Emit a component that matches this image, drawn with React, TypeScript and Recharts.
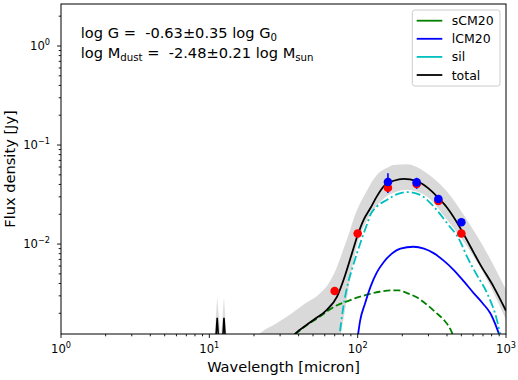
import React from 'react';
import { ComposedChart, Line, Area, Scatter, XAxis, YAxis, ErrorBar } from 'recharts';

// ---- data ----
const totalWave = [35, 38, 44, 50.6, 62, 72.6, 80.4, 91.6, 99, 109.7, 122, 135, 153, 175, 204, 250, 300, 343, 400, 492, 574, 671, 826, 1000];
const totalFlux = [0.00108, 0.00125, 0.00148, 0.00172, 0.00217, 0.00294, 0.00436, 0.0081, 0.0118, 0.0176, 0.0231, 0.0305, 0.0396, 0.0436, 0.0456, 0.0432, 0.0365, 0.0302, 0.0234, 0.0145, 0.0095, 0.0062, 0.0037, 0.00212];

const spikeWave = [10.9, 11.3, 11.7, 12.15, 12.55, 13.0];
const spikeFlux = [0.0008, 0.0018, 0.0008, 0.0008, 0.0018, 0.0008];

const spikeBandWave = [10.7, 11.3, 11.95, 12.55, 13.2];
const spikeBandLo = [0.0005, 0.0005, 0.0005, 0.0005, 0.0005];
const spikeBandHi = [0.0009, 0.0029, 0.0011, 0.0029, 0.0009];

const bandWave = [18, 22, 28.6, 36, 43, 56, 65, 72.6, 80, 89, 94, 104, 110, 128, 135, 158, 175, 215, 250, 293, 400, 545, 745, 1000];
const bandLo = [0.0005, 0.0005, 0.0005, 0.0005, 0.0005, 0.0005, 0.0005, 0.0008, 0.0017, 0.0045, 0.0069, 0.0124, 0.015, 0.0222, 0.0245, 0.0307, 0.033, 0.0353, 0.034, 0.0302, 0.0176, 0.0095, 0.00436, 0.00172];
const bandHi = [0.0009, 0.00126, 0.0016, 0.002, 0.00244, 0.0032, 0.0042, 0.0059, 0.0088, 0.0139, 0.018, 0.026, 0.0302, 0.045, 0.0501, 0.059, 0.063, 0.064, 0.06, 0.052, 0.034, 0.0176, 0.0081, 0.00346];

const silWave = [72, 75, 80, 86, 92, 100, 107, 115, 122, 135, 158, 185, 220, 264, 325, 400, 492, 545, 640, 745, 878, 950];
const silFlux = [0.0006, 0.0011, 0.0023, 0.004, 0.0057, 0.0085, 0.0115, 0.0155, 0.0198, 0.024, 0.028, 0.032, 0.0335, 0.0314, 0.024, 0.0163, 0.0106, 0.0075, 0.0048, 0.0032, 0.0016, 0.0009];

const lcmWave = [98, 104, 112, 122, 135, 150, 170, 194, 238, 280, 325, 380, 443, 520, 605, 700, 784, 870, 960];
const lcmFlux = [0.0009, 0.0017, 0.0025, 0.0037, 0.0052, 0.0066, 0.008, 0.009, 0.0094, 0.009, 0.0081, 0.0068, 0.0055, 0.0042, 0.0032, 0.0025, 0.002, 0.0014, 0.0009];

const scmWave = [30, 35, 38, 45.5, 54, 62.2, 72, 84.8, 100, 115.6, 140, 166, 190, 215, 250, 293, 335, 380, 420, 470];
const scmFlux = [0.0009, 0.00105, 0.00122, 0.00152, 0.0018, 0.00209, 0.0024, 0.00264, 0.0029, 0.00308, 0.0033, 0.0034, 0.0034, 0.0032, 0.0029, 0.00244, 0.00205, 0.00172, 0.0014, 0.0009];

const redWave = [70, 100, 160, 250, 350, 500];
const redFlux = [0.00336, 0.0128, 0.0371, 0.0404, 0.0272, 0.0128];

const blueWave = [160, 250, 350, 500];
const blueFlux = [0.0423, 0.042, 0.0285, 0.0166];
const blueErrLo = [0.0096, 0.0059, 0.0015, 0.0008];
const blueErrHi = [0.0097, 0.0047, 0.0015, 0.0008];

const xTicks = [1, 2, 3, 4, 5, 6, 7, 8, 9, 10, 20, 30, 40, 50, 60, 70, 80, 90, 100, 200, 300, 400, 500, 600, 700, 800, 900, 1000];
const yTicks = [0.002, 0.003, 0.004, 0.005, 0.006, 0.007, 0.008, 0.009, 0.01, 0.02, 0.03, 0.04, 0.05, 0.06, 0.07, 0.08, 0.09, 0.1, 0.2, 0.3, 0.4, 0.5, 0.6, 0.7, 0.8, 0.9, 1, 2];

const legendItems = [
  { label: 'sCM20', color: '#008000' },
  { label: 'lCM20', color: '#0000ff' },
  { label: 'sil', color: '#00bfbf' },
  { label: 'total', color: '#000000' },
];

// ---- tables built from the arrays ----
const rows = (w: number[], f: number[]) => w.map((x, i) => ({ w: x, f: f[i] }));
const bandRows = (w: number[], lo: number[], hi: number[]) => w.map((x, i) => ({ w: x, r: [lo[i], hi[i]] }));
const totalData = rows(totalWave, totalFlux);
const spikeData = rows(spikeWave, spikeFlux);
const silData = rows(silWave, silFlux);
const lcmData = rows(lcmWave, lcmFlux);
const scmData = rows(scmWave, scmFlux);
const bandData = bandRows(bandWave, bandLo, bandHi);
const spikeBandData = bandRows(spikeBandWave, spikeBandLo, spikeBandHi);
const redData = rows(redWave, redFlux);
const blueData = blueWave.map((x, i) => ({ w: x, f: blueFlux[i], err: [blueErrLo[i], blueErrHi[i]] }));

const FONT = 'DejaVu Sans';

const isMajor = (v: number) => Math.abs(Math.log10(v) - Math.round(Math.log10(v))) < 1e-9;
const expLabel = (v: number) => {
  const e = Math.round(Math.log10(v));
  return e < 0 ? '\u2212' + Math.abs(e) : String(e);
};

const XTick = (props: any) => {
  const { x, y, payload } = props;
  const v = payload.value;
  const major = isMajor(v);
  return (
    <g>
      <line x1={x} x2={x} y1={y} y2={y + (major ? 4 : 2.3)} stroke="#000" strokeWidth={0.9} />
      {major && (
        <text x={x} y={y + 18.6} textAnchor="middle" fontSize={11.6} fontFamily={FONT} fill="#000">
          10<tspan dy={-5} fontSize={8.2}>{expLabel(v)}</tspan>
        </text>
      )}
    </g>
  );
};

const YTick = (props: any) => {
  const { x, y, payload } = props;
  const v = payload.value;
  const major = isMajor(v);
  return (
    <g>
      <line x1={x - (major ? 4 : 2.3)} x2={x} y1={y} y2={y} stroke="#000" strokeWidth={0.9} />
      {major && (
        <text x={x - 11} y={y + 4.2} textAnchor="end" fontSize={11.6} fontFamily={FONT} fill="#000">
          10<tspan dy={-5.5} fontSize={8.2}>{expLabel(v)}</tspan>
        </text>
      )}
    </g>
  );
};

const redDot = (p: any) => <circle cx={p.cx} cy={p.cy} r={4.3} fill="#ff0000" />;
const blueDot = (p: any) => <circle cx={p.cx} cy={p.cy} r={4.3} fill="#0000ff" />;

export default function App() {
  return (
    <div style={{ position: 'absolute', left: 0, top: 0, width: 518, height: 380, background: '#fff' }}>
      <ComposedChart width={518} height={380} margin={{ top: 4, right: 12, bottom: 0, left: 0 }}>
        <XAxis
          dataKey="w"
          type="number"
          scale="log"
          domain={[1, 1000]}
          allowDataOverflow
          ticks={xTicks}
          interval={0}
          height={46}
          tick={XTick}
          tickLine={false}
          axisLine={false}
          tickSize={0}
          tickMargin={0}
        />
        <YAxis
          type="number"
          scale="log"
          domain={[0.001236, 2.654]}
          allowDataOverflow
          ticks={yTicks}
          interval={0}
          width={61}
          tick={YTick}
          tickLine={false}
          axisLine={false}
          tickSize={0}
          tickMargin={0}
        />
        <Area data={bandData} dataKey="r" type="monotone" fill="#d9d9d9" fillOpacity={1} stroke="none" isAnimationActive={false} />
        <Area data={spikeBandData} dataKey="r" type="linear" fill="#dedede" fillOpacity={1} stroke="none" isAnimationActive={false} />
        <Line data={scmData} dataKey="f" type="monotone" stroke="#008000" strokeWidth={1.8} strokeDasharray="7 3" dot={false} isAnimationActive={false} />
        <Line data={lcmData} dataKey="f" type="monotone" stroke="#0000ff" strokeWidth={1.8} dot={false} isAnimationActive={false} />
        <Line data={silData} dataKey="f" type="monotone" stroke="#00bfbf" strokeWidth={1.8} strokeDasharray="9 3 2 3" dot={false} isAnimationActive={false} />
        <Line data={totalData} dataKey="f" type="monotone" stroke="#000" strokeWidth={1.8} dot={false} isAnimationActive={false} />
        <Line data={spikeData} dataKey="f" type="linear" stroke="#000" strokeWidth={1.6} dot={false} isAnimationActive={false} />
        <Scatter data={redData} dataKey="f" shape={redDot} isAnimationActive={false} />
        <Scatter data={blueData} dataKey="f" shape={blueDot} isAnimationActive={false}>
          <ErrorBar dataKey="err" direction="y" width={0} stroke="#0000ff" strokeWidth={1.6} />
        </Scatter>
      </ComposedChart>
      <svg width={518} height={380} style={{ position: 'absolute', left: 0, top: 0, pointerEvents: 'none' }}>
        <rect x={61} y={4} width={445} height={330} fill="none" stroke="#000" strokeWidth={1} />
        <text x={283.5} y={372.3} textAnchor="middle" fontSize={14.6} fontFamily={FONT} fill="#000">
          Wavelength [micron]
        </text>
        <text x={15} y={169} transform="rotate(-90 15 169)" textAnchor="middle" fontSize={14.6} fontFamily={FONT} fill="#000">
          Flux density [Jy]
        </text>
        <text x={80.8} y={38.3} fontSize={14.6} fontFamily={FONT} fill="#000" style={{ whiteSpace: 'pre' }}>
          {'log G =  -0.63\u00b10.35 log G'}
          <tspan dy={3} fontSize={10.2}>0</tspan>
        </text>
        <text x={80.8} y={58.3} fontSize={14.6} fontFamily={FONT} fill="#000" style={{ whiteSpace: 'pre' }}>
          {'log M'}
          <tspan dy={3} fontSize={10.2}>dust</tspan>
          <tspan dy={-3}>{' =  -2.48\u00b10.21 log M'}</tspan>
          <tspan dy={3} fontSize={10.2}>sun</tspan>
        </text>
        <rect x={412.3} y={10} width={87.7} height={76} rx={2.5} fill="#fff" fillOpacity={0.8} stroke="#cccccc" strokeWidth={1} />
        {legendItems.map((it, i) => {
          const cy = 20.7 + i * 18.1;
          return (
            <g key={it.label}>
              <line x1={416.7} x2={442.3} y1={cy} y2={cy} stroke={it.color} strokeWidth={1.8} />
              <text x={451.7} y={cy + 4.5} fontSize={12.5} fontFamily={FONT} fill="#000">
                {it.label}
              </text>
            </g>
          );
        })}
      </svg>
    </div>
  );
}
